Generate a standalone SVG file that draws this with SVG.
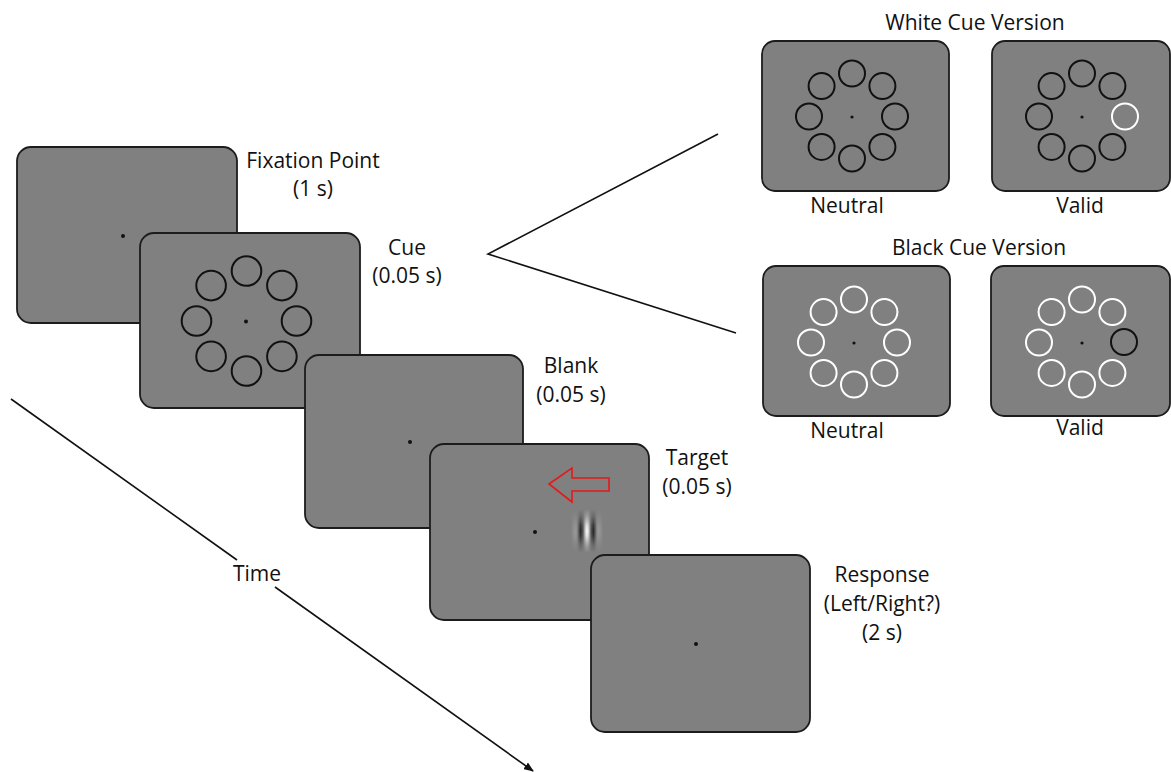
<svg xmlns="http://www.w3.org/2000/svg" xmlns:xlink="http://www.w3.org/1999/xlink" width="1171" height="772" viewBox="0 0 1171 772">
  <style>
    .screen { fill: #808080; stroke: #1c1c1c; stroke-width: 1.8; }
    .dot { fill: #111; }
    .ring-dark { fill: none; stroke: #111; stroke-width: 2; }
    .ring-light { fill: none; stroke: #fff; stroke-width: 2; }
    .label { font-family: "Open Sans", "Liberation Sans", sans-serif; font-size: 21px; fill: #111; text-anchor: middle; }
    .conn { fill: none; stroke: #111; stroke-width: 1.6; }
  </style>
  <defs>
    <marker id="arrow-end" viewBox="0 0 10 8" refX="9" refY="4" markerWidth="10" markerHeight="8" markerUnits="userSpaceOnUse" orient="auto">
      <path d="M0,0 L10,4 L0,8 z" fill="#111"/>
    </marker>
    <!-- large placeholder ring, eight circles around the fixation point -->
    <g id="ring-large">
      <circle cx="50" cy="0" r="14.8"/>
      <circle cx="35.4" cy="35.4" r="14.8"/>
      <circle cx="0" cy="50" r="14.8"/>
      <circle cx="-35.4" cy="35.4" r="14.8"/>
      <circle cx="-50" cy="0" r="14.8"/>
      <circle cx="-35.4" cy="-35.4" r="14.8"/>
      <circle cx="0" cy="-50" r="14.8"/>
      <circle cx="35.4" cy="-35.4" r="14.8"/>
    </g>
    <!-- small ring without the right-hand placeholder -->
    <g id="ring-small-7">
      <circle cx="30.4" cy="30.4" r="13"/>
      <circle cx="0" cy="42" r="13"/>
      <circle cx="-30.4" cy="30.4" r="13"/>
      <circle cx="-43" cy="0" r="13"/>
      <circle cx="-30.4" cy="-30.4" r="13"/>
      <circle cx="0" cy="-43" r="13"/>
      <circle cx="30.4" cy="-30.4" r="13"/>
    </g>
    <!-- Gabor patch: horizontal carrier with envelope, vertical envelope via mask -->
    <linearGradient id="gabor-carrier" x1="0" y1="0" x2="1" y2="0">
      <stop offset="0" stop-color="#808080"/>
      <stop offset="0.1" stop-color="#808080"/>
      <stop offset="0.15" stop-color="#8e8e8e"/>
      <stop offset="0.225" stop-color="#999"/>
      <stop offset="0.2625" stop-color="#808080"/>
      <stop offset="0.3" stop-color="#505050"/>
      <stop offset="0.341" stop-color="#262626"/>
      <stop offset="0.4" stop-color="#555"/>
      <stop offset="0.42" stop-color="#808080"/>
      <stop offset="0.45" stop-color="#c3c3c3"/>
      <stop offset="0.5" stop-color="#fff"/>
      <stop offset="0.55" stop-color="#c3c3c3"/>
      <stop offset="0.58" stop-color="#808080"/>
      <stop offset="0.6" stop-color="#555"/>
      <stop offset="0.659" stop-color="#262626"/>
      <stop offset="0.7" stop-color="#505050"/>
      <stop offset="0.7375" stop-color="#808080"/>
      <stop offset="0.775" stop-color="#999"/>
      <stop offset="0.85" stop-color="#8e8e8e"/>
      <stop offset="0.9" stop-color="#808080"/>
      <stop offset="1" stop-color="#808080"/>
    </linearGradient>
    <linearGradient id="gabor-envelope" x1="0" y1="0" x2="0" y2="1">
      <stop offset="0" stop-color="#fff" stop-opacity="0"/>
      <stop offset="0.159" stop-color="#fff" stop-opacity="0.25"/>
      <stop offset="0.273" stop-color="#fff" stop-opacity="0.54"/>
      <stop offset="0.386" stop-color="#fff" stop-opacity="0.86"/>
      <stop offset="0.5" stop-color="#fff" stop-opacity="1"/>
      <stop offset="0.614" stop-color="#fff" stop-opacity="0.86"/>
      <stop offset="0.727" stop-color="#fff" stop-opacity="0.54"/>
      <stop offset="0.841" stop-color="#fff" stop-opacity="0.25"/>
      <stop offset="1" stop-color="#fff" stop-opacity="0"/>
    </linearGradient>
    <mask id="gabor-mask" maskUnits="userSpaceOnUse" x="567" y="509" width="40" height="44">
      <rect x="567" y="509" width="40" height="44" fill="url(#gabor-envelope)"/>
    </mask>
  </defs>

  <rect width="1171" height="772" fill="#fff"/>

  <!-- connectors: time axis and the bracket toward the cue variants -->
  <g id="connectors">
    <line class="conn" x1="11" y1="399" x2="237" y2="560"/>
    <line class="conn" x1="275" y1="587" x2="533" y2="771" marker-end="url(#arrow-end)"/>
    <polyline class="conn" points="718,134 488,254 736,333"/>
  </g>

  <!-- trial sequence -->
  <g id="fixation-screen">
    <rect class="screen" x="17" y="147" width="220" height="176" rx="14"/>
    <circle class="dot" cx="123" cy="236" r="2"/>
  </g>

  <g id="cue-screen">
    <rect class="screen" x="140" y="233" width="220" height="175" rx="14"/>
    <use xlink:href="#ring-large" class="ring-dark" transform="translate(246.5 321)"/>
    <circle class="dot" cx="246" cy="321.5" r="2"/>
  </g>

  <g id="blank-screen">
    <rect class="screen" x="305" y="355" width="218" height="173" rx="14"/>
    <circle class="dot" cx="410" cy="442" r="2"/>
  </g>

  <g id="target-screen">
    <rect class="screen" x="430" y="444" width="219" height="176" rx="14"/>
    <circle class="dot" cx="535" cy="532" r="2"/>
    <polygon points="549,484 572,468 572,478 609,478 609,491 572,491 572,502" fill="none" stroke="#e41a1a" stroke-width="1.6" stroke-linejoin="miter"/>
    <rect x="567" y="509" width="40" height="44" fill="url(#gabor-carrier)" mask="url(#gabor-mask)"/>
  </g>

  <g id="response-screen">
    <rect class="screen" x="591" y="555" width="219" height="177" rx="14"/>
    <circle class="dot" cx="696" cy="644" r="2"/>
  </g>

  <!-- cue variants -->
  <g id="white-neutral">
    <rect class="screen" x="762" y="41" width="187" height="150" rx="13"/>
    <use xlink:href="#ring-small-7" class="ring-dark" transform="translate(852 116.5)"/>
    <circle class="ring-dark" cx="895" cy="116.5" r="13"/>
    <circle class="dot" cx="852" cy="117" r="1.6"/>
  </g>

  <g id="white-valid">
    <rect class="screen" x="992" y="41" width="178" height="150" rx="13"/>
    <use xlink:href="#ring-small-7" class="ring-dark" transform="translate(1082 116.5)"/>
    <circle class="ring-light" cx="1125" cy="116.5" r="13"/>
    <circle class="dot" cx="1082" cy="117" r="1.6"/>
  </g>

  <g id="black-neutral">
    <rect class="screen" x="763" y="266" width="187" height="150" rx="13"/>
    <use xlink:href="#ring-small-7" class="ring-light" transform="translate(854 342.5)"/>
    <circle class="ring-light" cx="897" cy="342.5" r="13"/>
    <circle class="dot" cx="854" cy="343" r="1.6"/>
  </g>

  <g id="black-valid">
    <rect class="screen" x="991" y="266" width="179" height="150" rx="13"/>
    <use xlink:href="#ring-small-7" class="ring-light" transform="translate(1082 342.5)"/>
    <circle class="ring-dark" cx="1124" cy="342" r="13"/>
    <circle class="dot" cx="1082" cy="343" r="1.6"/>
  </g>

  <!-- labels -->
  <g id="labels">
    <text class="label" x="313" y="168">Fixation Point</text>
    <text class="label" x="313" y="196">(1 s)</text>
    <text class="label" x="407" y="255">Cue</text>
    <text class="label" x="407" y="283">(0.05 s)</text>
    <text class="label" x="571" y="373">Blank</text>
    <text class="label" x="571" y="402">(0.05 s)</text>
    <text class="label" x="697" y="465">Target</text>
    <text class="label" x="697" y="494">(0.05 s)</text>
    <text class="label" x="882" y="582">Response</text>
    <text class="label" x="882" y="611">(Left/Right?)</text>
    <text class="label" x="882" y="640">(2 s)</text>
    <text class="label" x="257" y="581">Time</text>
    <text class="label" x="975" y="30">White Cue Version</text>
    <text class="label" x="847" y="213">Neutral</text>
    <text class="label" x="1080" y="213">Valid</text>
    <text class="label" x="979" y="255">Black Cue Version</text>
    <text class="label" x="847" y="438">Neutral</text>
    <text class="label" x="1080" y="435">Valid</text>
  </g>
</svg>
